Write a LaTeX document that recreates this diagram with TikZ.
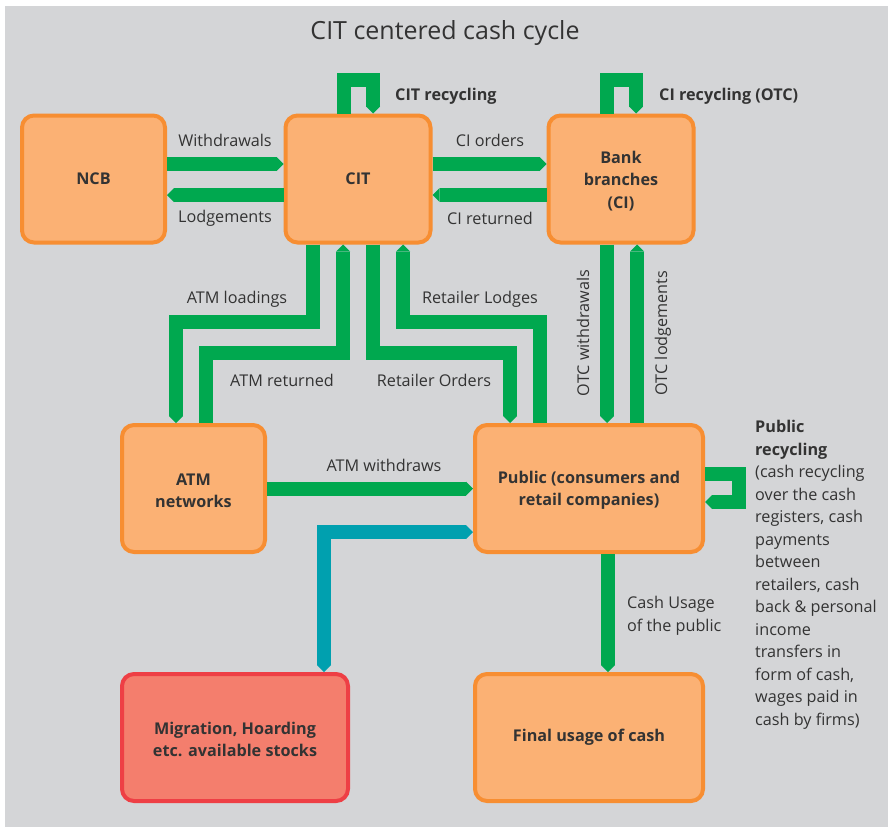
\documentclass[tikz,border=0pt]{standalone}
\usepackage{fontspec}
\setmainfont{Open Sans}
\usetikzlibrary{arrows.meta}
\definecolor{bg}{HTML}{D4D5D7}
\definecolor{boxfill}{HTML}{FBB174}
\definecolor{boxdraw}{HTML}{F78E32}
\definecolor{redfill}{HTML}{F47E6D}
\definecolor{reddraw}{HTML}{EE3F45}
\definecolor{flowgreen}{HTML}{00A84F}
\definecolor{flowteal}{HTML}{00A0AF}
\definecolor{ink}{HTML}{333333}
\newcommand\cycboxfont{\bfseries\fontsize{16.2}{22.5}\selectfont}
\newcommand\cyclabfont{\fontsize{16.2}{22.5}\selectfont}
\begin{document}
\begin{tikzpicture}[x=1pt,y=-1pt,
  box/.style={rectangle, rounded corners=12pt, line width=4pt, draw=boxdraw,
    fill=boxfill, minimum width=143pt, minimum height=127pt, inner sep=0pt,
    align=center, text=ink, font=\cycboxfont},
  widebox/.style={box, minimum width=228pt},
  redbox/.style={widebox, draw=reddraw, fill=redfill, minimum width=226pt},
  lab/.style={text=ink, font=\cyclabfont, inner sep=0pt},
  boldlab/.style={lab, font=\cycboxfont},
  flow/.style={draw=flowgreen, line width=14pt, line join=miter,
    -{Triangle[width=14pt,length=7pt,line width=0pt]}},
  tealflow/.style={draw=flowteal, line width=14pt, line join=miter,
    {Triangle[width=14pt,length=7pt,line width=0pt]}-{Triangle[width=14pt,length=7pt,line width=0pt]}}
]
\useasboundingbox (0,0) rectangle (888,827);
\fill[bg] (5,6) rectangle (888,827);

% title
\node[text=ink, font=\fontsize{25}{30}\selectfont, inner sep=0pt] (title) at (445,33) {CIT centered cash cycle};

% boxes
\node[box] (ncb) at (93.5,179) {\raisebox{-2pt}{NCB}};
\node[box, minimum width=145pt] (cit) at (358,179) {\raisebox{-2pt}{CIT}};
\node[box, minimum width=145pt] (bank) at (621,179) {\strut Bank\\branches\\(CI)};
\node[box] (atm) at (193.5,488.5) {\strut ATM\\networks};
\node[widebox] (pub) at (589,488.5) {\strut Public (consumers and\\retail companies)};
\node[redbox] (mig) at (235,737.5) {\strut Migration, Hoarding\\etc. available stocks};
\node[widebox] (fin) at (589,737.5) {\raisebox{-5pt}{Final usage of cash}};

% NCB <-> CIT
\draw[flow] ([yshift=15pt]ncb.east) -- ([yshift=15pt]cit.west);
\draw[flow] ([yshift=-16pt]cit.west) -- ([yshift=-16pt]ncb.east);
% CIT <-> bank branches
\draw[flow] ([yshift=15pt]cit.east) -- ([yshift=15pt]bank.west);
\draw[flow] ([yshift=-16pt]bank.west) -- ([yshift=-16pt]cit.east);

% recycling loops on top
\draw[flow] ([xshift=-14pt]cit.north) -- ++(0,-34) -| ([xshift=15pt]cit.north);
\draw[flow] ([xshift=-14pt]bank.north) -- ++(0,-34) -| ([xshift=15pt]bank.north);

% CIT <-> ATM networks
\draw[flow] ([xshift=-45pt]cit.south) -- ++(0,77) -| ([xshift=-17.5pt]atm.north);
\draw[flow] ([xshift=12.5pt]atm.north) -- ++(0,-70) -| ([xshift=-15pt]cit.south);
% CIT <-> public
\draw[flow] ([xshift=15pt]cit.south) -- ++(0,108) -| ([xshift=-79pt]pub.north);
\draw[flow] ([xshift=-49pt]pub.north) -- ++(0,-101) -| ([xshift=45pt]cit.south);
% bank branches <-> public
\draw[flow] ([xshift=-14pt]bank.south) -- ([xshift=18pt]pub.north);
\draw[flow] ([xshift=48pt]pub.north) -- ([xshift=16pt]bank.south);

% ATM -> public
\draw[flow] (atm.east) -- (pub.west);
% public recycling loop
\draw[flow] ([yshift=14.5pt]pub.east) -- ++(34,0) |- ([yshift=-13.5pt]pub.east);
% public -> final usage
\draw[flow] ([xshift=19pt]pub.south) -- ([xshift=19pt]fin.north);
% public <-> stocks
\draw[tealflow] ([xshift=89pt]mig.north) |- ([yshift=-43.5pt]pub.west);

% flow labels
\node[lab] (lwd) at (225,140) {Withdrawals};
\node[lab] (llo) at (225,218) {Lodgements};
\node[lab] (lcio) at (490,140) {CI orders};
\node[lab] (lcir) at (490,218) {CI returned};
\node[boldlab, anchor=west] (lcitr) at (395,96) {CIT recycling};
\node[boldlab, anchor=west] (lcir2) at (659,96) {CI recycling (OTC)};
\node[lab] (latml) at (237,299) {ATM loadings};
\node[lab] (latmr) at (282,380) {ATM returned};
\node[lab] (lrl) at (480,299) {Retailer Lodges};
\node[lab] (lro) at (434,380) {Retailer Orders};
\node[lab, rotate=90] (lotcw) at (583,333) {OTC withdrawals};
\node[lab, rotate=90] (lotcl) at (663,333) {OTC lodgements};
\node[lab] (latmw) at (384,465) {ATM withdraws};
\node[lab, anchor=west, align=left] (lcu) at (627,616) {Cash Usage\\of the public};
\node[lab, anchor=north west, align=left] (lpr) at (755,420)
  {\textbf{Public}\\\textbf{recycling}\\(cash recycling\\over the cash\\registers, cash\\payments\\between\\retailers, cash\\back \& personal\\income\\transfers in\\form of cash,\\wages paid in\\cash by firms)};
\end{tikzpicture}
\end{document}
